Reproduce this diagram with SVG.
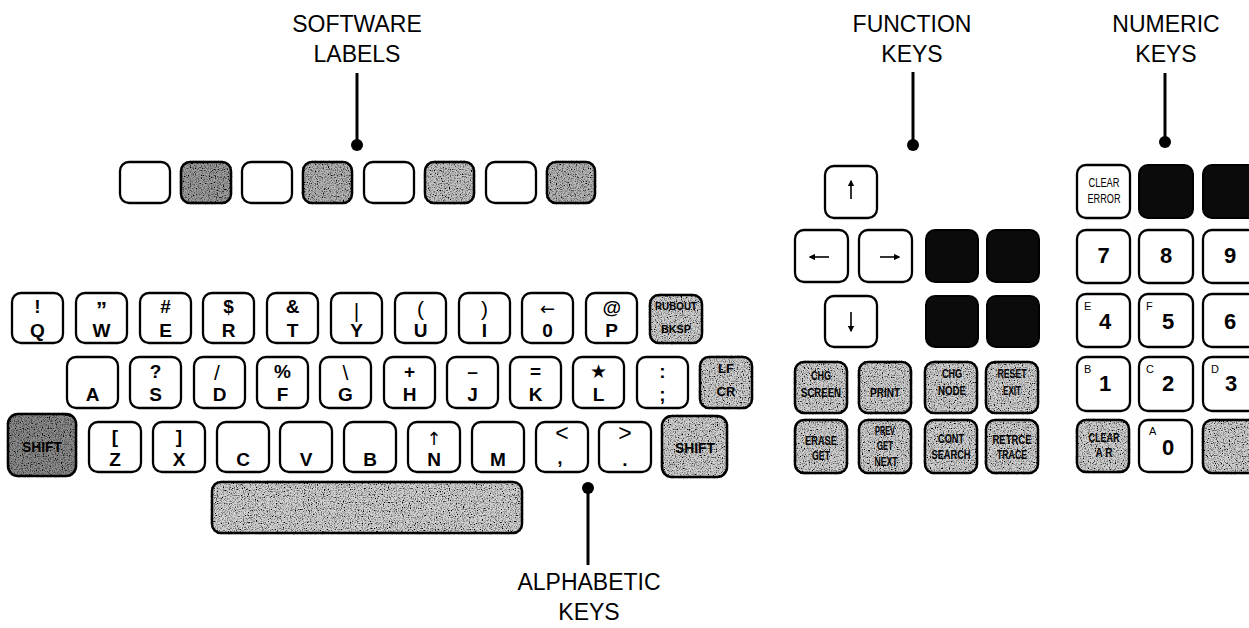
<svg xmlns="http://www.w3.org/2000/svg" width="1249" height="628" viewBox="0 0 1249 628">
<style>
text{font-family:"Liberation Sans",Arial,"DejaVu Sans",sans-serif;text-anchor:middle;fill:#000}
.k{fill:#fff;stroke:#000;stroke-width:2.3}
.g{fill:#d0d0d0;stroke:#000;stroke-width:2.5;filter:url(#st)}
.gd{fill:#a8a8a8;stroke:#000;stroke-width:2.5;filter:url(#st)}
.b{fill:#0b0b0b;stroke:#000;stroke-width:2}
.L{font-weight:bold;font-size:19px}
.S{font-weight:bold;font-size:19px}
.T{font-size:21px}
.A{font-family:"DejaVu Sans",sans-serif;font-size:18px;fill:#000}
.f{font-weight:bold;font-size:13px}
.n{font-weight:bold;font-size:22px}
.sup{font-size:11px;text-anchor:start}
.cap{font-size:23px}
.ln{stroke:#000;stroke-width:3;fill:none}
.ar{stroke:#000;stroke-width:1.6;fill:none;marker-end:url(#ah)}
</style>
<defs>
<filter id="st" x="-0.05" y="-0.05" width="1.1" height="1.1">
<feTurbulence type="fractalNoise" baseFrequency="0.85" numOctaves="2" seed="7" result="n"/>
<feColorMatrix in="n" type="matrix" values="0 0 0 0 0  0 0 0 0 0  0 0 0 0 0  0 0 0 -3 1.7" result="a"/>
<feComposite in="a" in2="SourceGraphic" operator="in" result="dots"/>
<feMerge><feMergeNode in="SourceGraphic"/><feMergeNode in="dots"/></feMerge>
</filter>
<marker id="ah" viewBox="0 0 10 10" refX="8" refY="5" markerWidth="4" markerHeight="4" orient="auto" markerUnits="strokeWidth">
<path d="M0,0 L10,5 L0,10 z" fill="#000"/>
</marker>
</defs>

<!-- callout labels -->
<g id="label-software">
<text class="cap" x="357" y="32">SOFTWARE</text>
<text class="cap" x="357" y="62">LABELS</text>
</g>
<g id="label-function">
<text class="cap" x="912" y="32">FUNCTION</text>
<text class="cap" x="912" y="62">KEYS</text>
</g>
<g id="label-numeric">
<text class="cap" x="1166" y="32">NUMERIC</text>
<text class="cap" x="1166" y="62">KEYS</text>
</g>
<g id="label-alphabetic">
<text class="cap" x="589" y="590">ALPHABETIC</text>
<text class="cap" x="589" y="620">KEYS</text>
</g>

<g id="connectors">
<line class="ln" x1="357" y1="73" x2="357" y2="145"/><circle cx="357" cy="145" r="6"/>
<line class="ln" x1="913" y1="72" x2="913" y2="145"/><circle cx="913" cy="145" r="6"/>
<line class="ln" x1="1165" y1="73" x2="1165" y2="142"/><circle cx="1165" cy="142" r="6"/>
<line class="ln" x1="588" y1="488" x2="588" y2="565"/><circle cx="588" cy="488" r="6"/>
</g>

<!-- software label keys -->
<g id="softkeys">
<rect class="k" x="120" y="162" width="50" height="41" rx="9"/>
<rect class="gd" x="181" y="162" width="50" height="41" rx="9" style="fill:#9c9c9c"/>
<rect class="k" x="242" y="162" width="50" height="41" rx="9"/>
<rect class="g" x="303" y="162" width="49" height="41" rx="9" style="fill:#b4b4b4"/>
<rect class="k" x="364" y="162" width="50" height="41" rx="9"/>
<rect class="g" x="425" y="162" width="49" height="41" rx="9" style="fill:#c4c4c4"/>
<rect class="k" x="486" y="162" width="50" height="41" rx="9"/>
<rect class="g" x="547" y="162" width="48" height="41" rx="9" style="fill:#b6b6b6"/>
</g>

<!-- row 1 -->
<g id="key-q"><rect class="k" x="12" y="293" width="51" height="50" rx="9"/><text class="S" x="37.5" y="313">!</text><text class="L" x="37.5" y="337">Q</text></g>
<g id="key-w"><rect class="k" x="76" y="293" width="51" height="50" rx="9"/><text class="S" x="101.5" y="317" style="font-size:22px">”</text><text class="L" x="101.5" y="337">W</text></g>
<g id="key-e"><rect class="k" x="140" y="293" width="51" height="50" rx="9"/><text class="S" x="165.5" y="313">#</text><text class="L" x="165.5" y="337">E</text></g>
<g id="key-r"><rect class="k" x="203" y="293" width="51" height="50" rx="9"/><text class="S" x="228.5" y="313">$</text><text class="L" x="228.5" y="337">R</text></g>
<g id="key-t"><rect class="k" x="267" y="293" width="51" height="50" rx="9"/><text class="S" x="292.5" y="313">&amp;</text><text class="L" x="292.5" y="337">T</text></g>
<g id="key-y"><rect class="k" x="331" y="293" width="51" height="50" rx="9"/><text class="T" x="356.5" y="318">|</text><text class="L" x="356.5" y="337">Y</text></g>
<g id="key-u"><rect class="k" x="395" y="293" width="51" height="50" rx="9"/><text class="T" x="420.5" y="316">(</text><text class="L" x="420.5" y="337">U</text></g>
<g id="key-i"><rect class="k" x="459" y="293" width="51" height="50" rx="9"/><text class="T" x="484.5" y="316">)</text><text class="L" x="484.5" y="337">I</text></g>
<g id="key-o"><rect class="k" x="522" y="293" width="51" height="50" rx="9"/><text class="A" x="547.5" y="315">←</text><text class="L" x="547.5" y="337">0</text></g>
<g id="key-p"><rect class="k" x="586" y="293" width="51" height="50" rx="9"/><text class="S" x="611.5" y="314" style="font-style:italic">@</text><text class="L" x="611.5" y="337">P</text></g>
<g id="key-rubout"><rect class="g" x="650" y="295" width="52" height="48" rx="9"/><text class="f" x="676" y="310" textLength="42" lengthAdjust="spacingAndGlyphs" style="font-size:11px">RUBOUT</text><text class="f" x="676" y="333" textLength="30" lengthAdjust="spacingAndGlyphs" style="font-size:11px">BKSP</text></g>

<!-- row 2 -->
<g id="key-a"><rect class="k" x="67" y="357" width="51" height="51" rx="9"/><text class="L" x="92.5" y="401">A</text></g>
<g id="key-s"><rect class="k" x="130" y="357" width="51" height="51" rx="9"/><text class="S" x="155.5" y="378">?</text><text class="L" x="155.5" y="401">S</text></g>
<g id="key-d"><rect class="k" x="194" y="357" width="51" height="51" rx="9"/><text class="T" x="217" y="380">/</text><text class="L" x="219.5" y="401">D</text></g>
<g id="key-f"><rect class="k" x="257" y="357" width="51" height="51" rx="9"/><text class="S" x="282.5" y="378">%</text><text class="L" x="282.5" y="401">F</text></g>
<g id="key-g"><rect class="k" x="320" y="357" width="51" height="51" rx="9"/><text class="T" x="345.5" y="380">\</text><text class="L" x="345.5" y="401">G</text></g>
<g id="key-h"><rect class="k" x="384" y="357" width="51" height="51" rx="9"/><text class="S" x="409.5" y="378">+</text><text class="L" x="409.5" y="401">H</text></g>
<g id="key-j"><rect class="k" x="447" y="357" width="51" height="51" rx="9"/><text class="S" x="472.5" y="378">–</text><text class="L" x="472.5" y="401">J</text></g>
<g id="key-k"><rect class="k" x="510" y="357" width="51" height="51" rx="9"/><text class="S" x="535.5" y="378">=</text><text class="L" x="535.5" y="401">K</text></g>
<g id="key-l"><rect class="k" x="573" y="357" width="51" height="51" rx="9"/><text class="S" x="598.5" y="378">★</text><text class="L" x="598.5" y="401">L</text></g>
<g id="key-semicolon"><rect class="k" x="637" y="357" width="51" height="51" rx="9"/><text class="S" x="662.5" y="378">:</text><text class="L" x="662.5" y="401">;</text></g>
<g id="key-lfcr"><rect class="g" x="700" y="357" width="52" height="51" rx="9"/><text class="f" x="726" y="373">LF</text><text class="f" x="726" y="396">CR</text></g>

<!-- row 3 -->
<g id="key-shift-left"><rect class="gd" x="8" y="414" width="68" height="62" rx="10" style="fill:#8a8a8a"/><text class="f" x="42" y="452" textLength="40" lengthAdjust="spacingAndGlyphs" style="font-size:14px">SHIFT</text></g>
<g id="key-z"><rect class="k" x="89" y="422" width="52" height="50" rx="9"/><text class="S" x="115" y="443">[</text><text class="L" x="115" y="466">Z</text></g>
<g id="key-x"><rect class="k" x="153" y="422" width="52" height="50" rx="9"/><text class="S" x="179" y="443">]</text><text class="L" x="179" y="466">X</text></g>
<g id="key-c"><rect class="k" x="217" y="422" width="52" height="50" rx="9"/><text class="L" x="243" y="466">C</text></g>
<g id="key-v"><rect class="k" x="280" y="422" width="52" height="50" rx="9"/><text class="L" x="306" y="466">V</text></g>
<g id="key-b"><rect class="k" x="344" y="422" width="52" height="50" rx="9"/><text class="L" x="370" y="466">B</text></g>
<g id="key-n"><rect class="k" x="408" y="422" width="52" height="50" rx="9"/><text class="A" x="434" y="445">↑</text><text class="L" x="434" y="466">N</text></g>
<g id="key-m"><rect class="k" x="472" y="422" width="52" height="50" rx="9"/><text class="L" x="498" y="466">M</text></g>
<g id="key-comma"><rect class="k" x="536" y="422" width="52" height="50" rx="9"/><text class="T" x="562" y="441" style="font-size:23px">&lt;</text><text class="L" x="560" y="464">,</text></g>
<g id="key-period"><rect class="k" x="599" y="422" width="52" height="50" rx="9"/><text class="T" x="625" y="441" style="font-size:23px">&gt;</text><text class="L" x="625" y="466">.</text></g>
<g id="key-shift-right"><rect class="g" x="662" y="416" width="65" height="61" rx="10"/><text class="f" x="695" y="453" textLength="40" lengthAdjust="spacingAndGlyphs" style="font-size:14px">SHIFT</text></g>

<g id="key-space"><rect class="g" x="212" y="482" width="310" height="51" rx="9" style="fill:#d2d2d2"/></g>

<!-- function keys -->
<g id="key-up"><rect class="k" x="825" y="166" width="52" height="52" rx="9"/><line class="ar" x1="851" y1="199" x2="851" y2="181"/></g>
<g id="key-left"><rect class="k" x="795" y="230" width="53" height="52" rx="9"/><line class="ar" x1="829" y1="257" x2="810" y2="257"/></g>
<g id="key-right"><rect class="k" x="859" y="230" width="53" height="52" rx="9"/><line class="ar" x1="880" y1="257" x2="899" y2="257"/></g>
<g id="key-f-blank1"><rect class="b" x="926" y="230" width="52" height="52" rx="9"/></g>
<g id="key-f-blank2"><rect class="b" x="987" y="230" width="52" height="52" rx="9"/></g>
<g id="key-down"><rect class="k" x="825" y="296" width="52" height="51" rx="9"/><line class="ar" x1="851" y1="312" x2="851" y2="331"/></g>
<g id="key-f-blank3"><rect class="b" x="926" y="296" width="52" height="51" rx="9"/></g>
<g id="key-f-blank4"><rect class="b" x="987" y="296" width="52" height="51" rx="9"/></g>

<g id="key-chg-screen"><rect class="g" x="795" y="362" width="52" height="51" rx="9"/><text class="f" x="821" y="380" textLength="20" lengthAdjust="spacingAndGlyphs">CHG</text><text class="f" x="821" y="397" textLength="40" lengthAdjust="spacingAndGlyphs">SCREEN</text></g>
<g id="key-print"><rect class="g" x="859" y="362" width="52" height="51" rx="9"/><text class="f" x="885" y="397" textLength="30" lengthAdjust="spacingAndGlyphs">PRINT</text></g>
<g id="key-chg-node"><rect class="g" x="925" y="362" width="52" height="51" rx="9"/><text class="f" x="952" y="378" textLength="20" lengthAdjust="spacingAndGlyphs">CHG</text><text class="f" x="952" y="395" textLength="28" lengthAdjust="spacingAndGlyphs">NODE</text></g>
<g id="key-reset-exit"><rect class="g" x="986" y="362" width="52" height="51" rx="9"/><text class="f" x="1012" y="378" textLength="29" lengthAdjust="spacingAndGlyphs">RESET</text><text class="f" x="1012" y="395" textLength="18" lengthAdjust="spacingAndGlyphs">EXIT</text></g>

<g id="key-erase-get"><rect class="g" x="795" y="420" width="52" height="53" rx="9"/><text class="f" x="821" y="445" textLength="32" lengthAdjust="spacingAndGlyphs">ERASE</text><text class="f" x="821" y="460" textLength="18" lengthAdjust="spacingAndGlyphs">GET</text></g>
<g id="key-prev-next"><rect class="g" x="859" y="420" width="52" height="53" rx="9"/><text class="f" x="885" y="435" textLength="20" lengthAdjust="spacingAndGlyphs">PREV</text><text class="f" x="885" y="450" textLength="16" lengthAdjust="spacingAndGlyphs">GET</text><text class="f" x="886" y="466" textLength="23" lengthAdjust="spacingAndGlyphs">NEXT</text></g>
<g id="key-cont-search"><rect class="g" x="925" y="420" width="52" height="53" rx="9"/><text class="f" x="951" y="443" textLength="26" lengthAdjust="spacingAndGlyphs">CONT</text><text class="f" x="951" y="459" textLength="39" lengthAdjust="spacingAndGlyphs">SEARCH</text></g>
<g id="key-retrace"><rect class="g" x="986" y="420" width="52" height="53" rx="9"/><text class="f" x="1012" y="444" textLength="39" lengthAdjust="spacingAndGlyphs">RETRCE</text><text class="f" x="1012" y="459" textLength="30" lengthAdjust="spacingAndGlyphs">TRACE</text></g>

<!-- numeric keys -->
<g id="key-clear-error"><rect class="k" x="1077" y="165" width="53" height="53" rx="9"/><text x="1104" y="187" style="font-size:12px" textLength="31" lengthAdjust="spacingAndGlyphs">CLEAR</text><text x="1104" y="203" style="font-size:12px" textLength="33" lengthAdjust="spacingAndGlyphs">ERROR</text></g>
<g id="key-n-blank1"><rect class="b" x="1139" y="165" width="54" height="53" rx="9"/></g>
<g id="key-n-blank2"><rect class="b" x="1203" y="165" width="54" height="53" rx="9"/></g>
<g id="key-7"><rect class="k" x="1077" y="230" width="53" height="53" rx="9"/><text class="n" x="1103.5" y="263">7</text></g>
<g id="key-8"><rect class="k" x="1139" y="230" width="54" height="53" rx="9"/><text class="n" x="1166" y="263">8</text></g>
<g id="key-9"><rect class="k" x="1203" y="230" width="54" height="53" rx="9"/><text class="n" x="1230" y="263">9</text></g>
<g id="key-4"><rect class="k" x="1077" y="294" width="53" height="53" rx="9"/><text class="sup" x="1084" y="310">E</text><text class="n" x="1105" y="329">4</text></g>
<g id="key-5"><rect class="k" x="1139" y="294" width="54" height="53" rx="9"/><text class="sup" x="1146" y="310">F</text><text class="n" x="1168" y="329">5</text></g>
<g id="key-6"><rect class="k" x="1203" y="294" width="54" height="53" rx="9"/><text class="n" x="1230" y="329">6</text></g>
<g id="key-1"><rect class="k" x="1077" y="357" width="53" height="54" rx="9"/><text class="sup" x="1084" y="373">B</text><text class="n" x="1105" y="391">1</text></g>
<g id="key-2"><rect class="k" x="1139" y="357" width="54" height="54" rx="9"/><text class="sup" x="1146" y="373">C</text><text class="n" x="1168" y="391">2</text></g>
<g id="key-3"><rect class="k" x="1203" y="357" width="54" height="54" rx="9"/><text class="sup" x="1211" y="373">D</text><text class="n" x="1231" y="391">3</text></g>
<g id="key-clear-ar"><rect class="g" x="1077" y="420" width="52" height="52" rx="9"/><text class="f" x="1104" y="442" textLength="31" lengthAdjust="spacingAndGlyphs">CLEAR</text><text class="f" x="1104" y="457" textLength="17" lengthAdjust="spacingAndGlyphs">A R</text></g>
<g id="key-0"><rect class="k" x="1139" y="420" width="53" height="52" rx="9"/><text class="sup" x="1149" y="435">A</text><text class="n" x="1168" y="455">0</text></g>
<g id="key-n-grey"><rect class="g" x="1203" y="420" width="54" height="53" rx="9"/></g>
</svg>
